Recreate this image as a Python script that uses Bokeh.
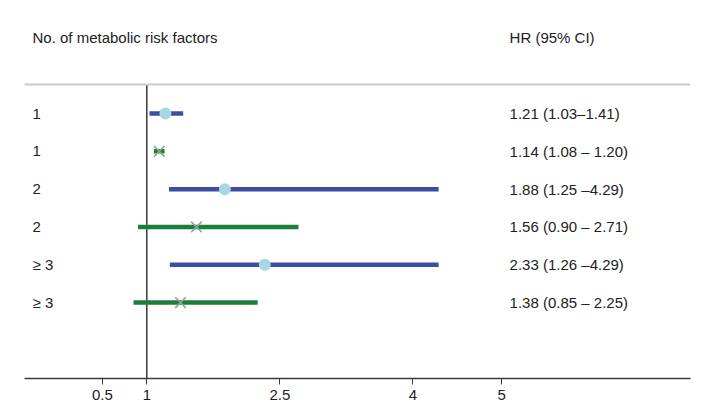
from bokeh.plotting import figure
from bokeh.models import Range1d, FixedTicker, ColumnDataSource, Span
from bokeh.core.properties import value
from bokeh.embed import file_html
from bokeh.resources import INLINE

# ---- data ----
groups = ["1", "1", "2", "2", "≥ 3", "≥ 3"]
hr = [1.21, 1.14, 1.88, 1.56, 2.33, 1.38]
ci_lo = [1.03, 1.08, 1.25, 0.90, 1.26, 0.85]
ci_hi = [1.41, 1.20, 4.29, 2.71, 4.29, 2.25]
hr_text = ["1.21 (1.03\u20131.41)", "1.14 (1.08 \u2013 1.20)", "1.88 (1.25 \u20134.29)",
           "1.56 (0.90 \u2013 2.71)", "2.33 (1.26 \u20134.29)", "1.38 (0.85 \u2013 2.25)"]
series = ["a", "b", "a", "b", "a", "b"]
tick_values = [0.5, 1, 2.5, 4, 5]
tick_labels = {0.5: "0.5", 1: "1", 2.5: "2.5", 4: "4", 5: "5"}
header_left = "No. of metabolic risk factors"
header_right = "HR (95% CI)"

BLUE = "#3a4ea3"
GREEN = "#1d7d3a"
CIRCLE = "#a8d6e2"
XCOL = "#8aa598"
FONT = "Liberation Sans"
FS = "15px"

rows = list(range(len(hr)))

p = figure(width=701, height=410, output_backend="svg", toolbar_location=None,
           x_range=Range1d(-0.379, 7.13), y_range=Range1d(7.01, -2.78),
           min_border_left=24, min_border_right=11, min_border_top=8, min_border_bottom=32)
p.outline_line_color = None
p.xgrid.grid_line_color = None
p.ygrid.grid_line_color = None
p.yaxis.visible = False
p.background_fill_color = "white"
p.border_fill_color = "white"

# x axis
ax = p.xaxis[0]
ax.ticker = FixedTicker(ticks=tick_values)
ax.major_label_overrides = tick_labels
ax.axis_line_color = "#3a3a3a"
ax.axis_line_width = 1.3
ax.major_tick_line_color = "#3a3a3a"
ax.major_tick_out = 6
ax.major_tick_in = 0
ax.minor_tick_line_color = None
ax.major_label_standoff = 5
ax.major_label_text_font = FONT
ax.major_label_text_font_size = FS
ax.major_label_text_color = "#222222"

# header separator line
p.add_layout(Span(location=-0.767, dimension="width", line_color="#cccccc", line_width=2))

# reference line at HR = 1
p.segment(x0=[1], x1=[1], y0=[-0.767], y1=[7.01], line_color="#3a3a3a", line_width=1.5)

blue_idx = [i for i in rows if series[i] == "a"]
green_idx = [i for i in rows if series[i] == "b"]

def sub(idx):
    return ColumnDataSource(dict(
        y=[rows[i] for i in idx], lo=[ci_lo[i] for i in idx],
        hi=[ci_hi[i] for i in idx], hr=[hr[i] for i in idx]))

sb = sub(blue_idx)
sg = sub(green_idx)

p.segment(x0="lo", x1="hi", y0="y", y1="y", source=sb, line_color=BLUE, line_width=4.5)
p.segment(x0="lo", x1="hi", y0="y", y1="y", source=sg, line_color=GREEN, line_width=4.5)
p.scatter(x="hr", y="y", source=sb, marker="circle", size=12, fill_color=CIRCLE, line_color=None)
p.scatter(x="hr", y="y", source=sg, marker="x", size=15, line_color=XCOL, line_width=1.6)

# texts
label_x = -0.289
value_x = 5.09
p.text(x=[label_x] * len(groups), y=rows, text=groups, text_font=value(FONT),
       text_font_size=FS, text_baseline="middle", text_color="#222222")
p.text(x=[value_x] * len(hr_text), y=rows, text=hr_text, text_font=value(FONT),
       text_font_size=FS, text_baseline="middle", text_color="#222222")
p.text(x=[label_x, value_x], y=[-2.0, -2.0], text=[header_left, header_right],
       text_font=value(FONT), text_font_size=FS, text_baseline="middle",
       text_color="#222222")

open("out.html", "w").write(file_html(p, INLINE))
